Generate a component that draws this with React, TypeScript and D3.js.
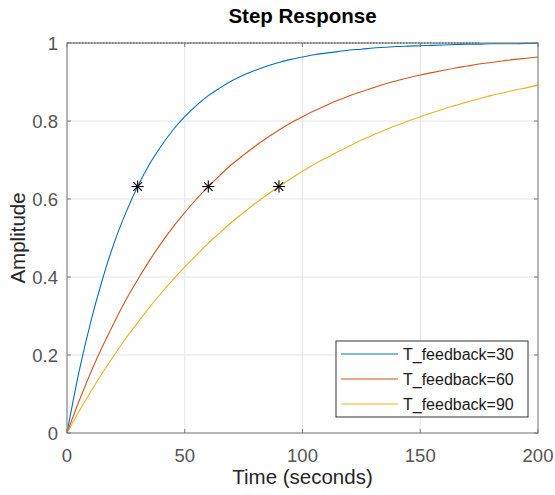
import React from "react";
import * as d3 from "d3";

const timeS = [0,5,10,15,20,25,30,35,40,45,50,55,60,65,70,75,80,85,90,95,100,105,110,115,120,125,130,135,140,145,150,155,160,165,170,175,180,185,190,195,200];
const amp30 = [0,0.154,0.283,0.393,0.487,0.565,0.632,0.689,0.736,0.777,0.811,0.840,0.865,0.885,0.903,0.918,0.930,0.941,0.950,0.958,0.964,0.970,0.974,0.978,0.982,0.984,0.987,0.989,0.991,0.992,0.993,0.994,0.995,0.996,0.997,0.997,0.998,0.998,0.998,0.999,0.999];
const amp60 = [0,0.080,0.154,0.221,0.283,0.341,0.393,0.442,0.487,0.528,0.565,0.600,0.632,0.661,0.689,0.713,0.736,0.757,0.777,0.795,0.811,0.826,0.840,0.853,0.865,0.875,0.885,0.895,0.903,0.911,0.918,0.924,0.930,0.936,0.941,0.946,0.950,0.954,0.958,0.961,0.964];
const amp90 = [0,0.054,0.105,0.154,0.199,0.243,0.283,0.322,0.359,0.393,0.426,0.457,0.487,0.514,0.541,0.565,0.589,0.611,0.632,0.652,0.671,0.689,0.705,0.721,0.736,0.751,0.764,0.777,0.789,0.800,0.811,0.821,0.831,0.840,0.849,0.857,0.865,0.872,0.879,0.885,0.892];
const seriesNames = ["T_feedback=30", "T_feedback=60", "T_feedback=90"];
const seriesColors = ["#0072BD", "#D95319", "#EDB120"];
const timeConstants = [30, 60, 90];
const markerAmp = [0.632, 0.632, 0.632];
const steadyEnd = 175;
const steadyValue = 1;
const xTicks = [0, 50, 100, 150, 200];
const yTicks = [0, 0.2, 0.4, 0.6, 0.8, 1];

const W = 555, H = 495;
const L = 67, R = 538, T = 43, B = 433;
const FONT = "'Liberation Sans', Arial, Helvetica, sans-serif";

export default function App() {
  const x = d3.scaleLinear().domain([0, 200]).range([L, R]);
  const y = d3.scaleLinear().domain([0, 1]).range([B, T]);
  const allAmps = [amp30, amp60, amp90];
  const line = d3.line<[number, number]>().x(d => x(d[0])).y(d => y(d[1])).curve(d3.curveMonotoneX);
  const tickLen = 4;
  const axisColor = "#7a7a7a";
  const tickText = "#555555";

  return (
    <svg width={W} height={H} style={{ position: "absolute", left: 0, top: 0 }} fontFamily={FONT}>
      <rect x={0} y={0} width={W} height={H} fill="#ffffff" />
      {xTicks.map(t => (
        <line key={"gx" + t} x1={x(t)} x2={x(t)} y1={T} y2={B} stroke="#e3e3e3" strokeWidth={1} />
      ))}
      {yTicks.map(t => (
        <line key={"gy" + t} x1={L} x2={R} y1={y(t)} y2={y(t)} stroke="#e3e3e3" strokeWidth={1} />
      ))}
      <line x1={x(0)} x2={x(steadyEnd)} y1={y(steadyValue)} y2={y(steadyValue)} stroke="#333" strokeWidth={1} strokeDasharray="1.5,1.5" />
      {allAmps.map((a, i) => (
        <path key={"s" + i} d={line(timeS.map((t, j) => [t, a[j]] as [number, number])) || ""} fill="none" stroke={seriesColors[i]} strokeWidth={1.1} />
      ))}
      {timeConstants.map((tc, i) => {
        const cx = x(tc), cy = y(markerAmp[i]);
        const r = 6, d = 4.3;
        return (
          <g key={"m" + i} stroke="#000" strokeWidth={1.1}>
            <line x1={cx - r} x2={cx + r} y1={cy} y2={cy} />
            <line x1={cx} x2={cx} y1={cy - r} y2={cy + r} />
            <line x1={cx - d} x2={cx + d} y1={cy - d} y2={cy + d} />
            <line x1={cx - d} x2={cx + d} y1={cy + d} y2={cy - d} />
          </g>
        );
      })}
      <rect x={L} y={T} width={R - L} height={B - T} fill="none" stroke={axisColor} strokeWidth={1} />
      {xTicks.map(t => (
        <g key={"tx" + t}>
          <line x1={x(t)} x2={x(t)} y1={B} y2={B - tickLen} stroke={axisColor} />
          <line x1={x(t)} x2={x(t)} y1={T} y2={T + tickLen} stroke={axisColor} />
          <text x={x(t)} y={462} textAnchor="middle" fontSize={18.5} fill={tickText}>{t}</text>
        </g>
      ))}
      {yTicks.map(t => (
        <g key={"ty" + t}>
          <line x1={L} x2={L + tickLen} y1={y(t)} y2={y(t)} stroke={axisColor} />
          <line x1={R} x2={R - tickLen} y1={y(t)} y2={y(t)} stroke={axisColor} />
          <text x={58} y={y(t) + 6.5} textAnchor="end" fontSize={18.5} fill={tickText}>{t}</text>
        </g>
      ))}
      <text x={(L + R) / 2} y={23} textAnchor="middle" fontSize={20.5} fontWeight="bold" fill="#000">Step Response</text>
      <text x={(L + R) / 2} y={484} textAnchor="middle" fontSize={20.5} fill="#262626">Time (seconds)</text>
      <text transform={`translate(25,${(T + B) / 2}) rotate(-90)`} textAnchor="middle" fontSize={20.5} fill="#262626">Amplitude</text>
      <rect x={336} y={341} width={192} height={76} fill="#fff" stroke="#333" strokeWidth={1} />
      {seriesNames.map((n, i) => (
        <g key={"lg" + i}>
          <line x1={341} x2={398} y1={354 + i * 25} y2={354 + i * 25} stroke={seriesColors[i]} strokeWidth={1.1} />
          <text x={403} y={354 + i * 25 + 6} fontSize={16} fill="#1a1a1a">{n}</text>
        </g>
      ))}
    </svg>
  );
}
